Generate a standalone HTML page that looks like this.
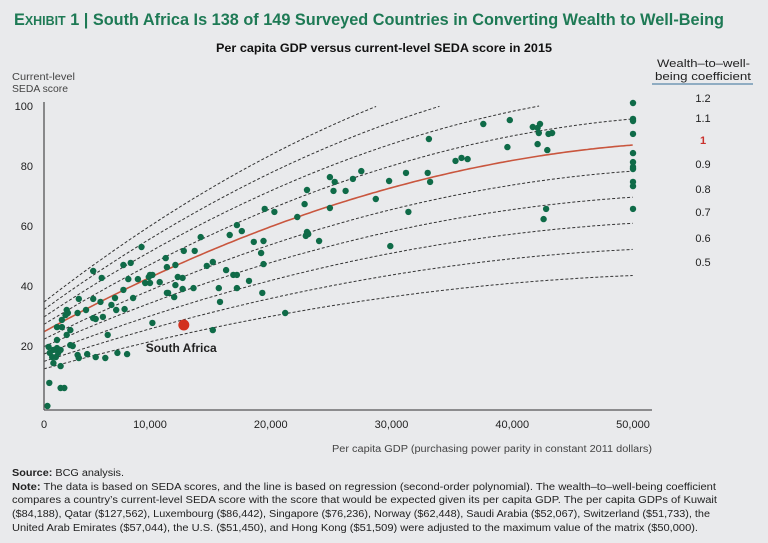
<!DOCTYPE html>
<html><head><meta charset="utf-8"><style>
html,body{margin:0;padding:0;background:#e9eaec;}
svg{display:block;font-family:"Liberation Sans",sans-serif;}
</style></head><body>
<svg id="chart" width="768" height="543" viewBox="0 0 768 543">
<rect x="0" y="0" width="768" height="543" fill="#e9eaec"/>
<text x="14" y="25" fill="#1e7a55" font-weight="bold" font-size="17" textLength="710" lengthAdjust="spacingAndGlyphs">E<tspan font-size="13">XHIBIT</tspan> 1 | South Africa Is 138 of 149 Surveyed Countries in Converting Wealth to Well-Being</text>
<text x="216" y="52" fill="#111" font-weight="bold" font-size="12" textLength="336" lengthAdjust="spacingAndGlyphs">Per capita GDP versus current-level SEDA score in 2015</text>
<text x="12" y="80" fill="#444" font-size="10" textLength="63" lengthAdjust="spacingAndGlyphs">Current-level</text>
<text x="12" y="92" fill="#444" font-size="10" textLength="56" lengthAdjust="spacingAndGlyphs">SEDA score</text>
<text x="657" y="67" fill="#222" font-size="11" textLength="93" lengthAdjust="spacingAndGlyphs">Wealth–to–well-</text>
<text x="655" y="80" fill="#222" font-size="11" textLength="96" lengthAdjust="spacingAndGlyphs">being coefficient</text>
<line x1="652" y1="84" x2="753" y2="84" stroke="#5a86a8" stroke-width="1.2"/>
<g id="coefLabels"></g>
<g id="curves"></g>
<g id="points"></g>
<g id="axes"></g>
<text x="652" y="452" text-anchor="end" fill="#444" font-size="10" textLength="320" lengthAdjust="spacingAndGlyphs">Per capita GDP (purchasing power parity in constant 2011 dollars)</text>
<g font-size="10" fill="#222">
<text x="12" y="476" textLength="112" lengthAdjust="spacingAndGlyphs"><tspan font-weight="bold">Source:</tspan> BCG analysis.</text>
<text x="12" y="490" textLength="704" lengthAdjust="spacingAndGlyphs"><tspan font-weight="bold">Note:</tspan> The data is based on SEDA scores, and the line is based on regression (second-order polynomial). The wealth–to–well-being coefficient</text>
<text x="12" y="503" textLength="705" lengthAdjust="spacingAndGlyphs">compares a country’s current-level SEDA score with the score that would be expected given its per capita GDP. The per capita GDPs of Kuwait</text>
<text x="12" y="517" textLength="698" lengthAdjust="spacingAndGlyphs">($84,188), Qatar ($127,562), Luxembourg ($86,442), Singapore ($76,236), Norway ($62,448), Saudi Arabia ($52,067), Switzerland ($51,733), the</text>
<text x="12" y="531" textLength="686" lengthAdjust="spacingAndGlyphs">United Arab Emirates ($57,044), the U.S. ($51,450), and Hong Kong ($51,509) were adjusted to the maximum value of the matrix ($50,000).</text>
</g>
</svg>
<script>
const xTicks = [0, 10000, 20000, 30000, 40000, 50000];
const xTickLabels = ["0", "10,000", "20,000", "30,000", "40,000", "50,000"];
const yTicks = [20, 40, 60, 80, 100];
const coefficients = [1.4, 1.3, 1.2, 1.1, 0.9, 0.8, 0.7, 0.6, 0.5];
const coefLabels = ["1.2", "1.1", "1", "0.9", "0.8", "0.7", "0.6", "0.5"];
const coefLabelValues = [1.2, 1.1, 1, 0.9, 0.8, 0.7, 0.6, 0.5];
const regression = [22, 22.8, -1.96]; // a + b*g + c*g^2, g in $10k
const gdp = [1500,1660,2600,2900,2600,2000,1600,1700,1900,2200,2400,2300,2600,2000,2300,3100,3400,3400,3600,4000,4100,4800,5500,6300,7300,8100,6500,2300,2700,2700,3100,3200,3000,4000,4100,4700,5300,5500,6100,5300,5900,6000,5300,6800,7100,7200,7900,7800,8400,9300,8200,7800,8600,9000,9600,10000,10200,9900,10000,10800,11300,11400,11400,10200,15200,21200,12100,12800,13700,14200,16600,17200,17600,14700,15200,12300,12700,12100,12700,13600,11500,12000,15700,16300,16900,17200,17200,15800,18200,18600,19400,19200,19400,19300,19500,20300,22200,22800,23000,23000,22900,23100,24000,24900,25300,25200,24900,26200,26800,27500,28700,29800,29900,31200,31400,33100,33000,33200,35300,35800,36300,37600,39600,39800,41700,42100,42300,42200,42100,42900,43000,43300,42800,42600,50000,50000,50000,50000,50000,50000,50000,50000,50000,50000,50000];
const seda = [0,7.7,6,6,13.3,14.3,19.7,17.7,16.3,16.3,17.7,19.3,18.7,18.7,22,23.7,25.3,20.3,20,17,16,17.3,16.3,16,17.7,17.3,23.7,26.3,26.3,28.7,32,31,30.3,31,35.7,32,29.3,29,29.7,35.7,34.7,42.7,45,33.7,36,32,32.3,47,47.7,53,42.3,38.7,36,42.3,41,43.7,43.7,43,41,41.3,49.3,46.3,37.7,27.7,25.3,31,47,51.7,51.7,56.3,57,60.3,58.3,46.7,48,43,42.7,40.3,39,39.3,37.7,36.3,39.3,45.3,43.7,43.7,39.3,34.7,41.7,54.7,55,51,47.3,37.7,65.7,64.7,63,67.3,72,58,56.7,57.3,55,76.3,74.7,71.7,66,71.7,75.7,78.3,69,75,53.3,77.7,64.7,89,77.7,74.7,81.7,82.7,82.3,94,86.3,95.3,93,92.7,94,91,87.3,85.3,90.7,91,65.7,62.3,101,95.7,95,90.7,84.3,81.3,79.7,79,74.7,73.3,65.7];
const highlightGdp = [12800];
const highlightSeda = [27];
const highlightLabel = ["South Africa"];

const NS = "http://www.w3.org/2000/svg";
const xs = v => 29.25 + v / 10000 * 120.75;
const ys = v => 406 - v * 3;
const gStart = (44 - 29.25) / 120.75 * 10000;
const fit = g => { const t = g / 10000; return regression[0] + regression[1]*t + regression[2]*t*t; };
function mk(tag, attrs, parent){ const e=document.createElementNS(NS,tag); for(const k in attrs) e.setAttribute(k,attrs[k]); parent.appendChild(e); return e; }

const curves = document.getElementById('curves');
function curvePath(k){
  let d = "";
  for (let g = gStart; g <= 50000 + 1; g += 250) {
    const gg = Math.min(g, 50000);
    const v = k * fit(gg);
    if (v > 100) break;
    d += (d ? "L" : "M") + xs(gg).toFixed(1) + "," + ys(v).toFixed(1);
  }
  return d;
}
coefficients.forEach(k => {
  const p = mk('path', {d: curvePath(k), fill:'none', stroke:'#333', 'stroke-width':'1', 'stroke-dasharray':'3,2'}, curves);
  
  
});
{
  const p = mk('path', {d: curvePath(1), fill:'none', stroke:'#c9563e', 'stroke-width':'1.6'}, curves);
  
  
}

const pts = document.getElementById('points');
gdp.forEach((g, i) => {
  const c = mk('circle', {cx: Math.max(46, xs(g)).toFixed(1), cy: ys(seda[i]).toFixed(1), r: '3.2', fill: '#0f6b48'}, pts);
  
  
});
highlightGdp.forEach((g, i) => {
  const c = mk('circle', {cx: xs(g), cy: ys(highlightSeda[i]), r: '5.5', fill: '#d2321f'}, pts);
  
  
  const t = mk('text', {x: xs(g) - 38, y: ys(highlightSeda[i]) + 27, 'font-size': '12', 'font-weight': 'bold', fill: '#222'}, pts);
  t.textContent = highlightLabel[i];
  
  
});

const ax = document.getElementById('axes');
const yl = mk('line', {x1:44, y1:102, x2:44, y2:410, stroke:'#555', 'stroke-width':'1.3'}, ax);


const xl = mk('line', {x1:44, y1:410, x2:652, y2:410, stroke:'#555', 'stroke-width':'1.3'}, ax);


xTicks.forEach((v, i) => {
  const x = i === 0 ? 44 : xs(v);
  const t = mk('text', {x: x, y: 428, 'text-anchor':'middle', 'font-size':'11', fill:'#222'}, ax);
  t.textContent = xTickLabels[i];
  
  
});
yTicks.forEach(v => {
  const t = mk('text', {x: 33, y: ys(v) + 4, 'text-anchor':'end', 'font-size':'11', fill:'#222'}, ax);
  t.textContent = String(v);
  
  
});

const cl = document.getElementById('coefLabels');
const coefY = [98, 118, 140, 164, 189, 212, 238, 262];
coefLabels.forEach((s, i) => {
  const t = mk('text', {x: 703, y: coefY[i] + 4, 'text-anchor':'middle', 'font-size':'11', fill: coefLabelValues[i] === 1 ? '#c9302c' : '#222', 'font-weight': coefLabelValues[i] === 1 ? 'bold' : 'normal'}, cl);
  t.textContent = s;
  
  
});
</script>
</body></html>
